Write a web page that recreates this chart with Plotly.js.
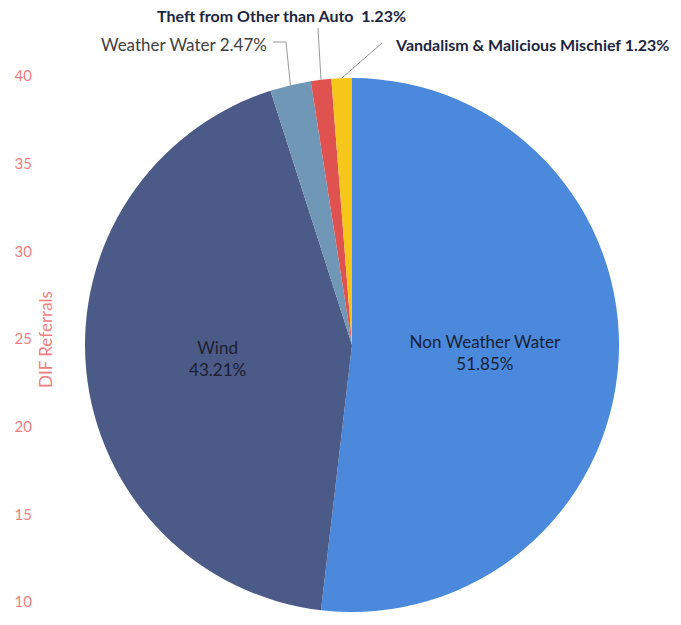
<!DOCTYPE html>
<html>
<head>
<meta charset="utf-8">
<script src="https://cdn.plot.ly/plotly-3.0.1.min.js"></script>
<style>html,body{margin:0;padding:0;background:#fff;}#chart{width:681px;height:625px;}</style>
</head>
<body>
<div id="chart"></div>
<script>
// ---- data ----
const categories = ["Non Weather Water", "Wind", "Weather Water", "Theft from Other than Auto", "Vandalism & Malicious Mischief"];
const referralCounts = [42, 35, 2, 1, 1];
const sliceColors = ["#4A89DC", "#4B5A87", "#7098B6", "#E0524F", "#F6C61A"];
const axisTickValues = [10, 15, 20, 25, 30, 35, 40];
const axisTitle = "DIF Referrals";

// ---- layout helpers (pixel -> paper) ----
const W = 681, H = 625, ML = 33, MR = 0, MT = 60, MB = 10;
const PW = W - ML - MR, PH = H - MT - MB;
const px = x => (x - ML) / PW;
const py = y => (H - MB - y) / PH;

const total = referralCounts.reduce((a, b) => a + b, 0);
const pct = i => (100 * referralCounts[i] / total).toFixed(2) + "%";

const cx = 352, cy = 345, R = 267;

const pie = {
  type: "pie",
  labels: categories,
  values: referralCounts,
  sort: false,
  direction: "clockwise",
  rotation: 0,
  marker: {colors: sliceColors, line: {width: 0}},
  textposition: ["inside", "inside", "none", "none", "none"],
  texttemplate: "%{label}<br>%{percent:.2%}",
  insidetextorientation: "horizontal",
  insidetextfont: {family: "Lato, 'Open Sans', sans-serif", size: 17, color: "#1b1f33"},
  showlegend: false,
  hoverinfo: "label+percent",
  domain: {x: [px(cx - R), px(cx + R)], y: [py(cy + R), py(cy - R)]}
};

const dummy = {type: "scatter", x: [], y: [], hoverinfo: "skip", showlegend: false};

// slice mid-angle edge points for leader lines
const cum = [];
let acc = 0;
referralCounts.forEach(v => { cum.push(acc); acc += v; });
const edge = i => {
  const a = (cum[i] + referralCounts[i] / 2) / total * 2 * Math.PI;
  return [cx + R * Math.sin(a), cy - R * Math.cos(a)];
};
const e2 = edge(2), e3 = edge(3), e4 = edge(4);
const lineStyle = {color: "#9a9a9a", width: 1};
const shapes = [
  {type: "path", xref: "paper", yref: "paper",
   path: `M ${px(273)} ${py(42)} L ${px(286)} ${py(42)} L ${px(e2[0])} ${py(e2[1])}`, line: lineStyle},
  {type: "line", xref: "paper", yref: "paper", x0: px(318), y0: py(28), x1: px(e3[0]), y1: py(e3[1]), line: lineStyle},
  {type: "line", xref: "paper", yref: "paper", x0: px(382), y0: py(43), x1: px(e4[0]), y1: py(e4[1]), line: lineStyle}
];

const labelFont = "Lato, 'Open Sans', sans-serif";
const annotations = [
  {text: `<b>${categories[3]}  ${pct(3)}</b>`, xref: "paper", yref: "paper", x: px(155), y: py(16),
   xanchor: "left", yanchor: "middle", showarrow: false, font: {family: labelFont, size: 16, color: "#1c2541"}},
  {text: `<b>${categories[4]} ${pct(4)}</b>`, xref: "paper", yref: "paper", x: px(393), y: py(44),
   xanchor: "left", yanchor: "middle", showarrow: false, font: {family: labelFont, size: 16, color: "#1c2541"}},
  {text: `${categories[2]} ${pct(2)}`, xref: "paper", yref: "paper", x: px(269), y: py(44),
   xanchor: "right", yanchor: "middle", showarrow: false, font: {family: labelFont, size: 17, color: "#404040"}},
  {text: axisTitle, xref: "paper", yref: "paper", x: px(45), y: py(340), textangle: -90,
   xanchor: "center", yanchor: "middle", showarrow: false, font: {family: labelFont, size: 17, color: "#F08080"}}
];

const layout = {
  width: W, height: H,
  margin: {l: ML, r: MR, t: MT, b: MB},
  paper_bgcolor: "#ffffff", plot_bgcolor: "rgba(0,0,0,0)",
  font: {family: labelFont},
  xaxis: {visible: false, range: [0, 1], fixedrange: true},
  yaxis: {
    range: [9.26, 40.91],
    tickmode: "array", tickvals: axisTickValues, ticktext: axisTickValues.map(String),
    tickfont: {family: labelFont, size: 15, color: "#F08080"},
    showgrid: false, zeroline: false, showline: false, ticks: "", fixedrange: true
  },
  shapes: shapes,
  annotations: annotations,
  showlegend: false
};

Plotly.newPlot("chart", [dummy, pie], layout, {displayModeBar: false, staticPlot: true});
</script>
</body>
</html>
